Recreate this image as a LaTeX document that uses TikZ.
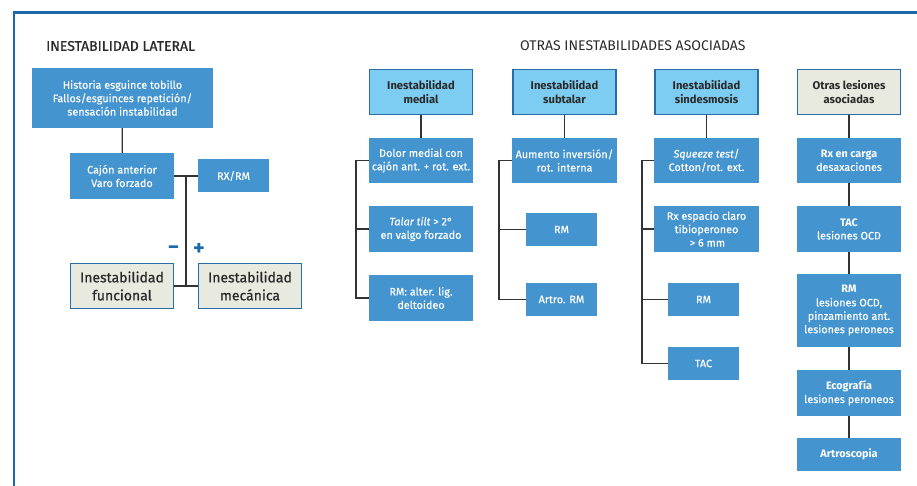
\documentclass[tikz,border=0pt]{standalone}
\usepackage{fontspec}
\setmainfont{Fira Sans}
\newfontfamily\medfont[FakeBold=0.35]{Fira Sans}
\newfontfamily\semifont[FakeBold=0.8]{Fira Sans}
\definecolor{boxblue}{HTML}{4494D0}
\definecolor{headblue}{HTML}{7DCCF1}
\definecolor{edgeblue}{HTML}{2A6CA6}
\definecolor{beige}{HTML}{E9EADF}
\definecolor{framecol}{HTML}{1B69AB}
\definecolor{linecol}{HTML}{333333}
\definecolor{txtdark}{HTML}{2A2A2A}
\tikzset{
  bluebox/.style={fill=boxblue, text=white, align=center, inner sep=1pt,
    font=\fontsize{10.8}{13.4}\medfont},
  headbox/.style={fill=headblue, draw=edgeblue, line width=1.3pt, text=txtdark, align=center,
    inner sep=1pt, font=\fontsize{11.2}{13.6}\selectfont\bfseries},
  beigehead/.style={headbox, fill=beige},
  bigbox/.style={fill=beige, draw=edgeblue, line width=1.3pt, text=txtdark, align=center,
    inner sep=1pt, font=\fontsize{14}{18}\semifont},
  conn/.style={draw=linecol, line width=1.2pt},
  frameline/.style={draw=framecol, line width=2.4pt},
  sectitle/.style={text=txtdark, anchor=west, inner sep=0pt, font=\fontsize{14}{16}\selectfont},
  sign/.style={text=framecol, inner sep=0pt, font=\fontsize{22}{22}\selectfont\bfseries},
}
\begin{document}
\begin{tikzpicture}[x=1pt, y=-1pt]
\useasboundingbox (0,0) rectangle (917,486);
% frame
\draw[frameline] (14,487) -- (14,12.5) -- (918,12.5);

% titles
\node[sectitle, font=\fontsize{14}{16}\semifont] (t1) at (46,46) {INESTABILIDAD LATERAL};
\node[sectitle] (t2) at (520,46) {OTRAS INESTABILIDADES ASOCIADAS};

% ---- lateral ----
\node[bluebox, minimum width=181pt, minimum height=60pt] (hist) at (122.5,98) {Historia esguince tobillo\\Fallos/esguinces repetición/\\sensación instabilidad};
\node[bluebox, minimum width=104pt, minimum height=46pt] (cajon) at (122,176) {Cajón anterior\\Varo forzado};
\node[bluebox, minimum width=71pt, minimum height=33pt] (rxrm) at (233.5,176) {RX/RM};
\node[bigbox, minimum width=103pt, minimum height=45pt] (func) at (122,286) {Inestabilidad\\funcional};
\node[bigbox, minimum width=103pt, minimum height=45pt] (mech) at (250,286) {Inestabilidad\\mecánica};
\coordinate (jt) at (186,176);
\coordinate (jb) at (186,286);
\draw[conn] (hist) -- (cajon);
\draw[conn] (cajon.east) -- (rxrm.west);
\draw[conn] (jt) -- (jb);
\draw[conn] (func.east) -- (mech.west);
\node[sign] (minus) at (173.5,250) {−};
\node[sign] (plus) at (199,249) {+};

% ---- medial ----
\node[headbox, minimum width=103pt, minimum height=45pt] (hmed) at (421,92) {Inestabilidad\\medial};
\node[bluebox, minimum width=104pt, minimum height=45pt] (dolor) at (421,160.5) {Dolor medial con\\cajón ant. + rot. ext.};
\node[bluebox, minimum width=104pt, minimum height=46pt] (talar) at (421,229) {\itshape Talar tilt\upshape{} > 2°\\en valgo forzado};
\node[bluebox, minimum width=104pt, minimum height=46pt] (rmalt) at (421,298) {RM: alter. lig.\\deltoideo};
\coordinate (mbot) at (356,298);
\draw[conn] (hmed) -- (dolor);
\draw[conn] (dolor.west) -| (mbot) -- (rmalt.west);
\draw[conn] (talar.west) -- (talar.west -| mbot);

% ---- subtalar ----
\node[headbox, minimum width=103pt, minimum height=45pt] (hsub) at (564.5,92) {Inestabilidad\\subtalar};
\node[bluebox, minimum width=105pt, minimum height=45pt] (aum) at (564.5,160.5) {Aumento inversión/\\rot. interna};
\node[bluebox, minimum width=71pt, minimum height=33pt] (rmsub) at (561.5,229.5) {RM};
\node[bluebox, minimum width=71pt, minimum height=33pt] (artrm) at (561.5,299.5) {Artro. RM};
\coordinate (sbot) at (499,299.5);
\draw[conn] (hsub) -- (aum);
\draw[conn] (aum.west) -| (sbot) -- (artrm.west);
\draw[conn] (rmsub.west) -- (rmsub.west -| sbot);

% ---- sindesmosis ----
\node[headbox, minimum width=103pt, minimum height=45pt] (hsin) at (706.5,92) {Inestabilidad\\sindesmosis};
\node[bluebox, minimum width=105pt, minimum height=45pt] (sq) at (706.5,160.5) {\itshape Squeeze test\upshape/\\Cotton/rot. ext.};
\node[bluebox, minimum width=105pt, minimum height=46pt] (rxesp) at (706.5,229) {Rx espacio claro\\tibioperoneo\\\,> 6 mm};
\node[bluebox, minimum width=71pt, minimum height=33pt] (rmsin) at (703.5,299.5) {RM};
\node[bluebox, minimum width=71pt, minimum height=33pt] (tacsin) at (703.5,363.5) {TAC};
\coordinate (dbot) at (642,363.5);
\draw[conn] (hsin) -- (sq);
\draw[conn] (sq.west) -| (dbot) -- (tacsin.west);
\draw[conn] (rxesp.west) -- (rxesp.west -| dbot);
\draw[conn] (rmsin.west) -- (rmsin.west -| dbot);

% ---- otras lesiones ----
\node[beigehead, minimum width=103pt, minimum height=45pt] (hotr) at (849,92) {Otras lesiones\\asociadas};
\node[bluebox, minimum width=104pt, minimum height=45pt] (rxc) at (849,160.5) {{\normalfont\bfseries Rx en carga}\\desaxaciones};
\node[bluebox, minimum width=104pt, minimum height=46pt] (tacl) at (849,229) {{\normalfont\bfseries TAC}\\lesiones OCD};
\node[bluebox, minimum width=104pt, minimum height=73pt] (rml) at (849,310.5) {{\normalfont\bfseries RM}\\lesiones OCD,\\pinzamiento ant.\\lesiones peroneos};
\node[bluebox, minimum width=104pt, minimum height=46pt] (eco) at (849,393) {{\normalfont\bfseries Ecografía}\\lesiones peroneos};
\node[bluebox, minimum width=104pt, minimum height=33pt] (artro) at (849,454.5) {{\normalfont\bfseries Artroscopia}};
\draw[conn] (hotr) -- (rxc);
\draw[conn] (rxc) -- (tacl);
\draw[conn] (tacl) -- (rml);
\draw[conn] (rml) -- (eco);
\draw[conn] (eco) -- (artro);
\end{tikzpicture}
\end{document}
